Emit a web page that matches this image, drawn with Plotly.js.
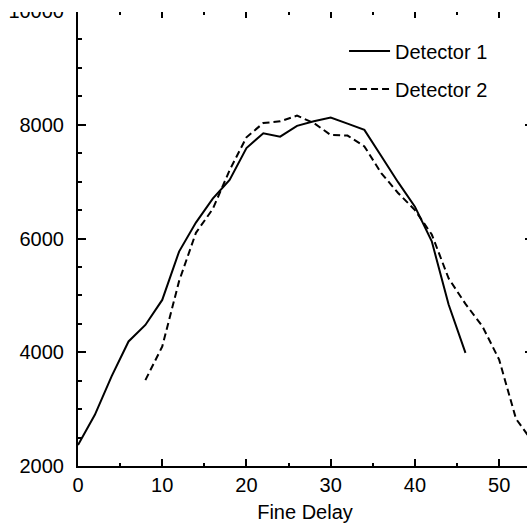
<!DOCTYPE html>
<html>
<head>
<meta charset="utf-8">
<script src="https://cdn.plot.ly/plotly-3.0.1.min.js"></script>
<style>
html, body { margin: 0; padding: 0; overflow: hidden; background: #fff; }
#chart { width: 560px; height: 525px; }
</style>
</head>
<body>
<div id="chart"></div>
<script>
// Detector 1 (solid)
const det1X = [0, 2, 4, 6, 8, 10, 12, 14, 16, 18, 20, 22, 24, 26, 28, 30, 32, 34, 36, 38, 40, 42, 44, 46];
const det1Y = [2370, 2900, 3580, 4190, 4480, 4920, 5770, 6280, 6700, 7030, 7590, 7850, 7790, 7980, 8060, 8125, 8020, 7910, 7450, 6990, 6560, 5950, 4840, 3990];
// Detector 2 (dashed)
const det2X = [8, 10, 12, 14, 16, 18, 20, 22, 24, 26, 28, 30, 32, 34, 36, 38, 40, 42, 44, 46, 48, 50, 52, 54];
const det2Y = [3510, 4100, 5250, 6100, 6520, 7200, 7780, 8030, 8060, 8160, 8030, 7820, 7810, 7620, 7150, 6800, 6500, 6070, 5300, 4850, 4460, 3870, 2830, 2420];

const seriesNames = ["Detector 1", "Detector 2"];
const xTitle = "Fine Delay";

const FONT = "Liberation Sans, Arial, Helvetica, sans-serif";
const xRange = [0, 53.9];
const yRange = [2000, 10000];

const traces = [
  { x: det1X, y: det1Y, type: "scatter", mode: "lines", name: seriesNames[0],
    legendgroup: "a", line: { color: "#000", width: 2 } },
  { x: det2X, y: det2Y, type: "scatter", mode: "lines", name: seriesNames[1],
    legendgroup: "b", line: { color: "#000", width: 2, dash: "7px,4px" } },
  { x: [], y: [], xaxis: "x2", yaxis: "y2", showlegend: false, hoverinfo: "skip" }
];

const layout = {
  width: 560, height: 525,
  margin: { l: 78, r: 28, t: 11, b: 59 },
  paper_bgcolor: "#fff", plot_bgcolor: "#fff",
  font: { family: FONT, size: 20, color: "#000" },
  showlegend: true,
  legend: {
    x: 0.586, xanchor: "left", y: 0.955, yanchor: "top",
    bgcolor: "rgba(0,0,0,0)", borderwidth: 0,
    traceorder: "grouped", tracegroupgap: 9, itemwidth: 41,
    font: { family: FONT, size: 20, color: "#000" }
  },
  xaxis: {
    range: xRange, showgrid: false, zeroline: false,
    showline: true, linecolor: "#000", linewidth: 2,
    ticks: "inside", ticklen: 7, tickwidth: 2, tickcolor: "#000",
    dtick: 10, tick0: 0, ticklabelstandoff: 0, tickformat: "d",
    minor: { dtick: 5, ticks: "inside", ticklen: 3.5, tickwidth: 2, tickcolor: "#000", showgrid: false },
    title: { text: xTitle, font: { family: FONT, size: 20, color: "#000" }, standoff: 10 }
  },
  yaxis: {
    range: yRange, showgrid: false, zeroline: false,
    showline: true, linecolor: "#000", linewidth: 2,
    ticks: "inside", ticklen: 8, tickwidth: 2, tickcolor: "#000",
    dtick: 2000, tick0: 2000, ticklabelstandoff: 8, tickformat: "d",
    minor: { dtick: 500, ticks: "inside", ticklen: 4, tickwidth: 2, tickcolor: "#000", showgrid: false }
  },
  xaxis2: {
    overlaying: "x", side: "top", anchor: "y", range: xRange,
    showgrid: false, zeroline: false, showline: false, showticklabels: false,
    ticks: "inside", ticklen: 7, tickwidth: 2, tickcolor: "#000", dtick: 10, tick0: 0,
    minor: { dtick: 5, ticks: "inside", ticklen: 3.5, tickwidth: 2, tickcolor: "#000", showgrid: false }
  },
  yaxis2: {
    overlaying: "y", side: "right", anchor: "x", range: yRange,
    showgrid: false, zeroline: false, showline: false, showticklabels: false,
    ticks: "inside", ticklen: 7, tickwidth: 2, tickcolor: "#000", dtick: 2000, tick0: 2000
  },
  shapes: [
    { type: "rect", layer: "above", xref: "paper", yref: "paper",
      x0: -0.3, x1: 1.2, y0: 0.9978, y1: 1.05,
      fillcolor: "#fff", line: { width: 0 } }
  ]
};

Plotly.newPlot("chart", traces, layout, { staticPlot: true, displayModeBar: false });
</script>
</body>
</html>
